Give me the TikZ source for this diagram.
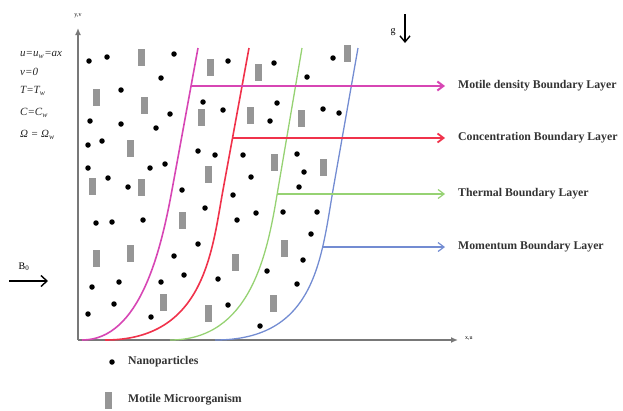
\documentclass[tikz,border=0pt]{standalone}
\usepackage{fontspec}
\setmainfont{Liberation Serif}
\usetikzlibrary{arrows.meta}
\definecolor{cmag}{RGB}{215,70,180}
\definecolor{cred}{RGB}{240,50,75}
\definecolor{cgreen}{RGB}{150,210,115}
\definecolor{cblue}{RGB}{115,140,210}
\definecolor{caxis}{RGB}{120,120,120}
\definecolor{cmo}{RGB}{150,150,150}
\begin{document}
\begin{tikzpicture}[x=1pt,y=-1pt,
  dot/.style={circle,fill=black,inner sep=0pt,minimum size=5.5pt},
  mo/.style={fill=cmo,inner sep=0pt,minimum width=7pt,minimum height=17pt},
  bl/.style={line width=1.6pt},
  harrow/.style={-{Straight Barb[length=6pt,width=9pt]}},
  lab/.style={anchor=west,font=\bfseries\fontsize{11.8}{13}\selectfont,text=black!80,inner sep=0pt},
  cond/.style={anchor=west,font=\itshape\fontsize{11}{12}\selectfont,text=black!85,inner sep=0pt},
  axlab/.style={font=\fontsize{6}{7}\selectfont,inner sep=0pt}]
\useasboundingbox (0,0) rectangle (623,410);

% axes
\coordinate (O) at (78,340);
\coordinate (ytop) at (78,28);
\coordinate (xend) at (458,340);
\draw[caxis,line width=1.6pt,-{Latex[length=7pt,width=6pt]}] (O) -- (ytop);
\draw[caxis,line width=1.6pt,-{Latex[length=7pt,width=6pt]}] (O) -- (xend);
\node[axlab] (ylab) at (78,16) {y,v};
\node[axlab,anchor=west] (xlab) at (465,339) {x,u};

% nanoparticles
\foreach \a/\b [count=\i] in {89/61,107/57,174/54,161/78,121/90,90/121,121/124,170/114,156/128,88/145,
  102/141,88/168,108/178,150/168,165/164,128/187,203/102,198/151,215/155,182/190,
  228/61,274/63,307/77,333/58,223/110,277/103,270/121,323/109,339/113,243/155,
  297/154,304/172,251/177,299/187,205/208,96/223,112/222,143/220,198/244,174/256,
  184/275,218/279,119/282,161/282,92/287,114/304,88/314,151/317,233/195,256/213,
  283/212,317/212,237/220,311/234,303/260,267/271,297/284,228/305,260/326}
  \node[dot] (d\i) at (\a,\b) {};
% motile microorganisms
\foreach \a/\b [count=\i] in {141/57,96/97,144/105,130/148,92/186,141/187,210/67,201/117,208/174,258/72,
  347/53,250/115,301/118,274/162,323/167,182/220,96/258,130/253,163/302,208/313,
  235/262,284/248,273/303}
  \node[mo] (m\i) at (\a,\b) {};

% boundary layer curves
\draw[cmag,bl] (82,340) .. controls (140,340) and (161,250) .. (172,190) -- (198,48);
\draw[cred,bl] (105,340) .. controls (205,340) and (212,250) .. (223,190) -- (249,48);
\draw[cgreen,line width=1.3pt] (170,340) .. controls (250,340) and (267,255) .. (277,195) -- (302,48);
\draw[cblue,line width=1.3pt] (215,340) .. controls (315,340) and (321,260) .. (333,190) -- (358,48);

% labels and arrows
\node[lab] (Lm) at (458,86) {Motile density Boundary Layer};
\node[lab] (Lc) at (458,138) {Concentration Boundary Layer};
\node[lab] (Lt) at (458,194) {Thermal Boundary Layer};
\node[lab] (Lu) at (458,247) {Momentum Boundary Layer};
\coordinate (am) at (191,86);
\coordinate (ac) at (232,138);
\coordinate (at) at (277,194);
\coordinate (au) at (322,247);
\draw[cmag,harrow,line width=2pt] (am) -- ([xshift=-13pt]Lm.west);
\draw[cred,harrow,line width=1.8pt] (ac) -- ([xshift=-13pt]Lc.west);
\draw[cgreen,harrow,line width=1.2pt] (at) -- ([xshift=-13pt]Lt.west);
\draw[cblue,harrow,line width=1.2pt] (au) -- ([xshift=-13pt]Lu.west);

% boundary conditions
\node[cond] (c1) at (20,55) {u=u\textsubscript{w}=ax};
\node[cond] (c2) at (20,72) {v=0};
\node[cond] (c3) at (20,91) {T=T\textsubscript{w}};
\node[cond] (c4) at (20,113) {C=C\textsubscript{w}};
\node[cond] (c5) at (20,135) {Ω = Ω\textsubscript{w}};

% magnetic field
\node[font=\fontsize{10}{11}\selectfont,inner sep=0pt] (B0) at (24,267) {B\textsubscript{0}};
\coordinate (bs) at (9,281);
\coordinate (be) at (48,281);
\draw[line width=1.4pt,-{Straight Barb[length=6pt,width=11pt]}] (bs) -- (be);

% gravity
\node[font=\fontsize{10}{11}\selectfont,inner sep=0pt] (g) at (393,32) {g};
\coordinate (gs) at (405,14);
\coordinate (ge) at (405,43);
\draw[line width=1.4pt,-{Straight Barb[length=6pt,width=10pt]}] (gs) -- (ge);

% legend
\node[dot] (ld) at (112,362) {};
\node[lab] (ldt) at (128,362) {Nanoparticles};
\node[mo] (lm) at (108,400) {};
\node[lab] (lmt) at (128,400) {Motile Microorganism};
\end{tikzpicture}
\end{document}
